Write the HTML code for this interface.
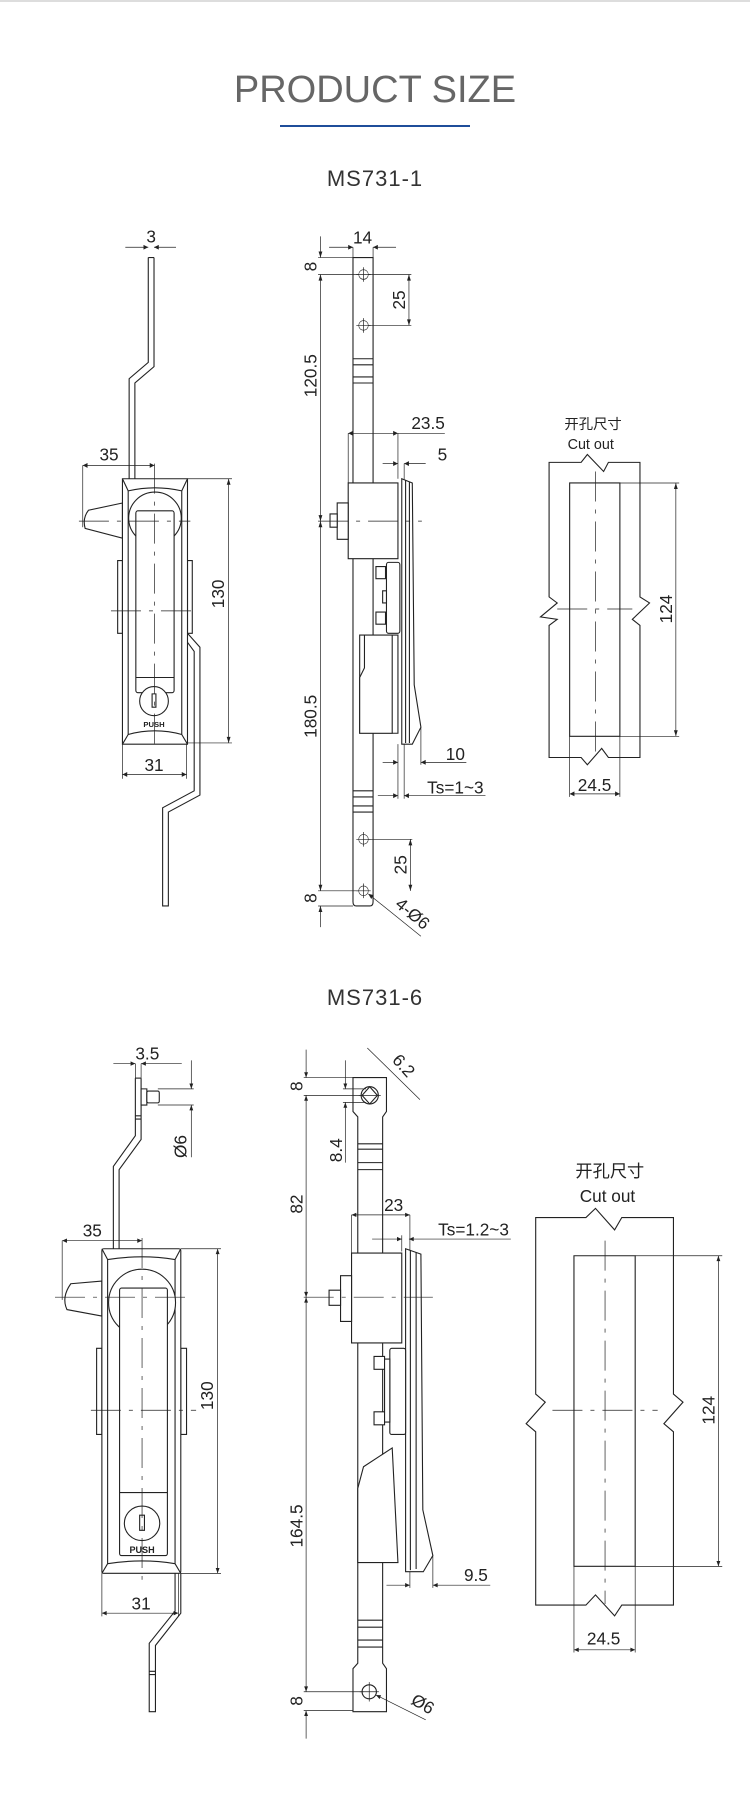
<!DOCTYPE html>
<html><head><meta charset="utf-8"><style>
html,body{margin:0;padding:0;background:#fff;}
svg{display:block}
.l,.f,.d,.da,.c{vector-effect:non-scaling-stroke}
.l{stroke:#222;stroke-width:1.1;fill:none}
.f{stroke:#222;stroke-width:1.1;fill:#fff}
.d{stroke:#222;stroke-width:0.7;fill:none}
.da{stroke:#222;stroke-width:0.7;fill:none;marker-start:url(#a);marker-end:url(#a)}
.c{stroke:#222;stroke-width:0.7;fill:none;stroke-dasharray:30 8 4 8}
.t{font-family:"Liberation Sans Narrow","Liberation Sans",sans-serif;font-size:36px;fill:#222}
.cn{font-family:"Liberation Sans","Noto Sans CJK SC",sans-serif;fill:#222}
</style></head><body>
<svg width="750" height="1794" viewBox="0 0 750 1794" xmlns="http://www.w3.org/2000/svg">
<defs>
<marker id="a" viewBox="0 0 10 10" refX="10" refY="5" markerWidth="14" markerHeight="10" markerUnits="userSpaceOnUse" orient="auto-start-reverse"><path d="M0,1 L10,5 L0,9 z" fill="#222"/></marker>
</defs>
<rect x="0" y="0" width="750" height="2" fill="#ddd"/>
<text x="375" y="102" text-anchor="middle" font-family="Liberation Sans,sans-serif" font-size="38" fill="#666">PRODUCT SIZE</text>
<rect x="280" y="125" width="190" height="2" fill="#1f4e9a"/>
<text x="375" y="186" text-anchor="middle" font-family="Liberation Sans,sans-serif" font-size="22" fill="#333" letter-spacing="1">MS731-1</text>
<text x="375" y="1005" text-anchor="middle" font-family="Liberation Sans,sans-serif" font-size="22" fill="#333" letter-spacing="1">MS731-6</text>

<!-- ============ MS731-1 ============ -->
<g transform="scale(0.4783,0.606)">
<!-- left view -->
<polyline class="l" points="310,425 310,598 270,625 270,790"/>
<polyline class="l" points="322,425 322,605 282,632 282,790"/>
<line class="l" x1="310" y1="425" x2="322" y2="425"/>
<line class="d" x1="262" y1="408" x2="310" y2="408" marker-end="url(#a)"/>
<line class="d" x1="368" y1="408" x2="322" y2="408" marker-end="url(#a)"/>
<text class="t" transform="translate(316,400) scale(1,.789)" text-anchor="middle">3</text>
<path class="f" d="M256,830 L185,842 Q172,855 178,872 L256,888 z"/>
<rect class="f" x="246" y="925" width="10" height="120"/>
<rect class="f" x="392" y="925" width="10" height="120"/>
<polyline class="l" points="392,1045 418,1068 418,1312 352,1340 352,1495 340,1495 340,1333 406,1305 406,1075 392,1060"/>
<rect class="f" x="256" y="790" width="136" height="438"/>
<path class="l" d="M256,790 L268,810 Q324,800 380,810 L392,790 M268,810 L268,1212 L256,1228 M380,810 L380,1212 L392,1228 M268,1212 Q324,1200 380,1212"/>
<ellipse class="f" cx="324" cy="855" rx="55" ry="43"/>
<rect class="f" x="284" y="843" width="80" height="300" rx="4"/>
<line class="l" x1="284" y1="1118" x2="364" y2="1118"/>
<ellipse class="f" cx="322" cy="1157" rx="30" ry="24"/>
<rect class="l" x="318" y="1145" width="8" height="22"/>
<text transform="translate(322,1200) scale(1,.789)" text-anchor="middle" font-family="Liberation Sans,sans-serif" font-weight="bold" font-size="16" fill="#222">PUSH</text>
<line class="c" x1="323" y1="765" x2="323" y2="1240"/>
<line class="c" x1="165" y1="860" x2="398" y2="860"/>
<line class="c" x1="232" y1="1008" x2="412" y2="1008"/>
<line class="d" x1="173" y1="768" x2="173" y2="870"/>
<line class="da" x1="173" y1="768" x2="323" y2="768"/>
<text class="t" transform="translate(228,760) scale(1,.789)" text-anchor="middle">35</text>
<line class="d" x1="392" y1="790" x2="485" y2="790"/>
<line class="d" x1="392" y1="1226" x2="485" y2="1226"/>
<line class="da" x1="478" y1="790" x2="478" y2="1226"/>
<text class="t" transform="translate(468,980) scale(1,.789) rotate(-90)" text-anchor="middle">130</text>
<line class="d" x1="256" y1="1228" x2="256" y2="1285"/>
<line class="d" x1="390" y1="1228" x2="390" y2="1285"/>
<line class="da" x1="256" y1="1278" x2="390" y2="1278"/>
<text class="t" transform="translate(322,1272) scale(1,.789)" text-anchor="middle">31</text>

<!-- middle view -->
<path class="f" d="M738,425 L780,425 L780,1488 Q780,1495 773,1495 L745,1495 Q738,1495 738,1488 z"/>
<path class="l" d="M738,592 H780 M738,602 H780 M738,622 H780 M738,632 H780 M738,1305 H780 M738,1315 H780 M738,1330 H780 M738,1340 H780"/>
<g class="l">
<ellipse cx="760" cy="453" rx="10" ry="8"/><ellipse cx="760" cy="537" rx="10" ry="8"/><ellipse cx="760" cy="1385" rx="10" ry="8"/><ellipse cx="760" cy="1470" rx="10" ry="8"/>
</g>
<path class="d" d="M745,453 H775 M760,441 V465 M745,537 H775 M760,525 V549 M745,1385 H775 M760,1373 V1397 M745,1470 H775 M760,1458 V1482"/>
<rect class="f" x="752" y="1048" width="80" height="162"/>
<path class="f" d="M762,1048 L820,1048 L820,1210 L752,1210 L752,1118 L762,1102 z"/>
<path class="f" d="M840,790 L862,797 L866,1130 L880,1200 L862,1228 L840,1228 z"/>
<path class="l" d="M848,792 V1226 M856,795 V1226"/>
<rect class="f" x="728" y="797" width="104" height="125"/>
<rect class="f" x="808" y="928" width="28" height="117" rx="4"/>
<rect class="f" x="786" y="935" width="20" height="20"/><rect class="f" x="786" y="1010" width="20" height="20"/>
<rect class="f" x="800" y="975" width="8" height="20"/>
<rect class="f" x="705" y="830" width="23" height="60"/>
<rect class="f" x="690" y="848" width="15" height="22"/>
<line class="c" x1="665" y1="860" x2="882" y2="860"/>
<!-- dims -->
<line class="d" x1="738" y1="408" x2="738" y2="425"/><line class="d" x1="780" y1="408" x2="780" y2="425"/>
<line class="d" x1="688" y1="408" x2="738" y2="408" marker-end="url(#a)"/>
<line class="d" x1="828" y1="408" x2="780" y2="408" marker-end="url(#a)"/>
<text class="t" transform="translate(758,402) scale(1,.789)" text-anchor="middle">14</text>
<line class="d" x1="665" y1="425" x2="738" y2="425"/><line class="d" x1="665" y1="453" x2="750" y2="453"/>
<line class="d" x1="670" y1="390" x2="670" y2="425" marker-end="url(#a)"/>
<line class="da" x1="670" y1="453" x2="670" y2="860"/>
<line class="da" x1="670" y1="860" x2="670" y2="1470"/>
<line class="d" x1="670" y1="1530" x2="670" y2="1495" marker-end="url(#a)"/>
<line class="d" x1="665" y1="1470" x2="750" y2="1470"/><line class="d" x1="665" y1="1495" x2="738" y2="1495"/>
<text class="t" transform="translate(662,440) scale(1,.789) rotate(-90)" text-anchor="middle">8</text>
<text class="t" transform="translate(662,620) scale(1,.789) rotate(-90)" text-anchor="middle">120.5</text>
<text class="t" transform="translate(662,1182) scale(1,.789) rotate(-90)" text-anchor="middle">180.5</text>
<text class="t" transform="translate(662,1482) scale(1,.789) rotate(-90)" text-anchor="middle">8</text>
<line class="d" x1="770" y1="453" x2="860" y2="453"/><line class="d" x1="770" y1="537" x2="860" y2="537"/>
<line class="da" x1="855" y1="453" x2="855" y2="537"/>
<text class="t" transform="translate(847,495) scale(1,.789) rotate(-90)" text-anchor="middle">25</text>
<line class="d" x1="770" y1="1385" x2="862" y2="1385"/>
<line class="da" x1="858" y1="1385" x2="858" y2="1470"/>
<text class="t" transform="translate(850,1427) scale(1,.789) rotate(-90)" text-anchor="middle">25</text>
<line class="d" x1="880" y1="1545" x2="770" y2="1475" marker-end="url(#a)"/>
<text class="t" transform="translate(855,1515) scale(1,.789) rotate(40)" text-anchor="middle">4-Ø6</text>
<line class="d" x1="728" y1="715" x2="728" y2="797"/><line class="d" x1="832" y1="715" x2="832" y2="790"/>
<line class="da" x1="728" y1="715" x2="832" y2="715"/>
<line class="d" x1="832" y1="715" x2="930" y2="715"/>
<text class="t" transform="translate(895,708) scale(1,.789)" text-anchor="middle">23.5</text>
<line class="d" x1="845" y1="765" x2="845" y2="792"/>
<line class="d" x1="800" y1="765" x2="832" y2="765" marker-end="url(#a)"/>
<line class="d" x1="890" y1="765" x2="845" y2="765" marker-end="url(#a)"/>
<text class="t" transform="translate(925,760) scale(1,.789)" text-anchor="middle">5</text>
<line class="d" x1="832" y1="1228" x2="832" y2="1318"/><line class="d" x1="880" y1="1200" x2="880" y2="1262"/><line class="d" x1="845" y1="1228" x2="845" y2="1318"/>
<line class="d" x1="800" y1="1258" x2="832" y2="1258" marker-end="url(#a)"/>
<line class="d" x1="975" y1="1258" x2="880" y2="1258" marker-end="url(#a)"/>
<text class="t" transform="translate(952,1254) scale(1,.789)" text-anchor="middle">10</text>
<line class="d" x1="790" y1="1313" x2="832" y2="1313" marker-end="url(#a)"/>
<line class="d" x1="1015" y1="1313" x2="845" y2="1313" marker-end="url(#a)"/>
<text class="t" transform="translate(952,1309) scale(1,.789)" text-anchor="middle">Ts=1~3</text>

<!-- cutout -->
<path class="l" d="M1148,763 H1215 L1228,750 L1262,778 L1272,763 H1338 V985 L1358,995 L1322,1022 L1338,1032 V1250 H1272 L1258,1235 L1228,1262 L1215,1250 H1148 V1032 L1165,1022 L1130,1018 L1165,995 L1148,985 z"/>
<rect class="l" x="1191" y="797" width="105" height="418"/>
<line class="c" x1="1245" y1="778" x2="1245" y2="1240"/>
<line class="c" x1="1165" y1="1005" x2="1322" y2="1005"/>
<line class="d" x1="1296" y1="797" x2="1420" y2="797"/><line class="d" x1="1296" y1="1215" x2="1420" y2="1215"/>
<line class="da" x1="1413" y1="797" x2="1413" y2="1215"/>
<text class="t" transform="translate(1405,1005) scale(1,.789) rotate(-90)" text-anchor="middle">124</text>
<line class="d" x1="1191" y1="1215" x2="1191" y2="1315"/><line class="d" x1="1296" y1="1215" x2="1296" y2="1315"/>
<line class="da" x1="1191" y1="1310" x2="1296" y2="1310"/>
<text class="t" transform="translate(1243,1305) scale(1,.789)" text-anchor="middle">24.5</text>
<text class="cn" transform="translate(1240,708) scale(1,.789)" font-size="30" text-anchor="middle">开孔尺寸</text>
<text class="cn" transform="translate(1235,741) scale(1,.789)" font-size="30" text-anchor="middle">Cut out</text>
</g>

<!-- ============ MS731-6 ============ -->
<g transform="translate(0,950) scale(0.4783,0.5383)">
<!-- left view -->
<line class="d" x1="237" y1="211" x2="283" y2="211" marker-end="url(#a)"/>
<line class="d" x1="380" y1="211" x2="295" y2="211" marker-end="url(#a)"/>
<line class="d" x1="283" y1="211" x2="283" y2="238"/><line class="d" x1="295" y1="211" x2="295" y2="238"/>
<text class="t" transform="translate(308,203) scale(1,.889)" text-anchor="middle">3.5</text>
<polyline class="l" points="283,238 283,345 237,402 237,555"/>
<polyline class="l" points="295,238 295,352 249,408 249,555"/>
<line class="l" x1="283" y1="238" x2="295" y2="238"/>
<path class="l" d="M283,308 H295 M283,314 H295"/>
<rect class="f" x="295" y="258" width="12" height="30"/>
<rect class="f" x="307" y="262" width="26" height="22" rx="3"/>
<line class="d" x1="330" y1="258" x2="405" y2="258"/><line class="d" x1="330" y1="288" x2="405" y2="288"/>
<line class="d" x1="400" y1="205" x2="400" y2="258" marker-end="url(#a)"/>
<line class="d" x1="400" y1="385" x2="400" y2="288" marker-end="url(#a)"/>
<text class="t" transform="translate(390,365) scale(1,.889) rotate(-90)" text-anchor="middle">Ø6</text>
<path class="f" d="M213,615 L148,620 Q128,645 140,668 L213,680 z"/>
<rect class="f" x="202" y="740" width="11" height="160"/>
<rect class="f" x="378" y="740" width="12" height="160"/>
<polyline class="l" points="366,1158 366,1228 312,1288 312,1415 325,1415 325,1292 378,1232 378,1158"/>
<path class="l" d="M312,1340 H325 M312,1346 H325"/>
<rect class="f" x="213" y="555" width="165" height="603" rx="4"/>
<path class="l" d="M213,555 L225,575 Q297,565 366,575 L378,555 M225,575 V1140 L213,1158 M366,575 V1140 L378,1158 M225,1140 Q297,1130 366,1140"/>
<ellipse class="f" cx="297" cy="655" rx="70" ry="62"/>
<rect class="f" x="250" y="628" width="100" height="497" rx="4"/>
<line class="l" x1="250" y1="1008" x2="350" y2="1008"/>
<ellipse class="f" cx="297" cy="1065" rx="37" ry="32"/>
<rect class="l" x="292" y="1050" width="10" height="28"/>
<text transform="translate(297,1120) scale(1,.889)" text-anchor="middle" font-family="Liberation Sans,sans-serif" font-weight="bold" font-size="19" fill="#222">PUSH</text>
<line class="c" x1="297" y1="535" x2="297" y2="1170"/>
<line class="c" x1="115" y1="645" x2="395" y2="645"/>
<line class="c" x1="190" y1="855" x2="410" y2="855"/>
<line class="d" x1="130" y1="540" x2="130" y2="650"/>
<line class="da" x1="130" y1="540" x2="297" y2="540"/>
<text class="t" transform="translate(193,532) scale(1,.889)" text-anchor="middle">35</text>
<line class="d" x1="378" y1="555" x2="462" y2="555"/><line class="d" x1="378" y1="1158" x2="462" y2="1158"/>
<line class="da" x1="455" y1="555" x2="455" y2="1158"/>
<text class="t" transform="translate(445,828) scale(1,.889) rotate(-90)" text-anchor="middle">130</text>
<line class="d" x1="213" y1="1158" x2="213" y2="1238"/><line class="d" x1="373" y1="1158" x2="373" y2="1238"/>
<line class="da" x1="213" y1="1232" x2="373" y2="1232"/>
<text class="t" transform="translate(295,1225) scale(1,.889)" text-anchor="middle">31</text>

<!-- middle view -->
<path class="f" d="M738,237 H808 V300 L800,310 V1325 L808,1335 V1415 H738 V1335 L748,1325 V310 L738,300 z"/>
<path class="l" d="M748,360 H800 M748,370 H800 M748,395 H800 M748,408 H800 M748,1245 H800 M748,1258 H800 M748,1282 H800 M748,1295 H800"/>
<path class="l" d="M773,254 L789,270 L773,286 L757,270 z"/>
<ellipse class="l" cx="773" cy="270" rx="18" ry="16"/>
<ellipse class="l" cx="772" cy="1378" rx="15" ry="13"/>
<path class="d" d="M752,1378 H792 M772,1360 V1396 M750,270 H796"/>
<path class="f" d="M760,960 L820,925 L832,1138 L748,1138 L748,1000 z"/>
<path class="f" d="M848,555 L880,565 L884,1040 L905,1125 L885,1155 L848,1155 z"/>
<path class="l" d="M858,558 V1152 M870,562 V1150"/>
<rect class="f" x="735" y="563" width="105" height="167"/>
<rect class="f" x="815" y="740" width="33" height="160" rx="4"/>
<rect class="f" x="782" y="755" width="22" height="24"/><rect class="f" x="782" y="858" width="22" height="24"/>
<rect class="f" x="804" y="760" width="11" height="117"/>
<rect class="f" x="712" y="605" width="23" height="85"/>
<rect class="f" x="688" y="632" width="24" height="28"/>
<line class="c" x1="635" y1="645" x2="905" y2="645"/>
<!-- dims -->
<line class="d" x1="635" y1="237" x2="738" y2="237"/><line class="d" x1="635" y1="270" x2="760" y2="270"/>
<line class="d" x1="640" y1="185" x2="640" y2="237" marker-end="url(#a)"/>
<line class="da" x1="640" y1="270" x2="640" y2="645"/>
<line class="da" x1="640" y1="645" x2="640" y2="1378"/>
<line class="d" x1="640" y1="1465" x2="640" y2="1413" marker-end="url(#a)"/>
<line class="d" x1="635" y1="1378" x2="760" y2="1378"/><line class="d" x1="635" y1="1413" x2="738" y2="1413"/>
<text class="t" transform="translate(632,253) scale(1,.889) rotate(-90)" text-anchor="middle">8</text>
<text class="t" transform="translate(632,472) scale(1,.889) rotate(-90)" text-anchor="middle">82</text>
<text class="t" transform="translate(632,1070) scale(1,.889) rotate(-90)" text-anchor="middle">164.5</text>
<text class="t" transform="translate(632,1395) scale(1,.889) rotate(-90)" text-anchor="middle">8</text>
<line class="d" x1="717" y1="258" x2="765" y2="258"/><line class="d" x1="717" y1="283" x2="765" y2="283"/>
<line class="d" x1="722" y1="205" x2="722" y2="258" marker-end="url(#a)"/>
<line class="d" x1="722" y1="395" x2="722" y2="283" marker-end="url(#a)"/>
<text class="t" transform="translate(715,372) scale(1,.889) rotate(-90)" text-anchor="middle">8.4</text>
<line class="d" x1="768" y1="182" x2="878" y2="278"/>
<text class="t" transform="translate(835,222) scale(1,.889) rotate(48)" text-anchor="middle">6.2</text>
<line class="d" x1="890" y1="1430" x2="786" y2="1384" marker-end="url(#a)"/>
<text class="t" transform="translate(878,1410) scale(1,.889) rotate(30)" text-anchor="middle">Ø6</text>
<line class="d" x1="735" y1="492" x2="735" y2="563"/><line class="d" x1="857" y1="492" x2="857" y2="558"/>
<line class="da" x1="735" y1="492" x2="857" y2="492"/>
<text class="t" transform="translate(823,485) scale(1,.889)" text-anchor="middle">23</text>
<line class="d" x1="840" y1="530" x2="840" y2="560"/>
<line class="d" x1="778" y1="537" x2="840" y2="537" marker-end="url(#a)"/>
<line class="d" x1="1068" y1="537" x2="855" y2="537" marker-end="url(#a)"/>
<text class="t" transform="translate(990,530) scale(1,.889)" text-anchor="middle">Ts=1.2~3</text>
<line class="d" x1="857" y1="1155" x2="857" y2="1185"/><line class="d" x1="905" y1="1125" x2="905" y2="1185"/>
<line class="d" x1="808" y1="1180" x2="857" y2="1180" marker-end="url(#a)"/>
<line class="d" x1="1025" y1="1180" x2="905" y2="1180" marker-end="url(#a)"/>
<text class="t" transform="translate(995,1172) scale(1,.889)" text-anchor="middle">9.5</text>

<!-- cutout -->
<path class="l" d="M1120,497 H1225 L1245,480 L1285,520 L1300,497 H1408 V825 L1428,840 L1388,880 L1408,895 V1217 H1300 L1285,1237 L1245,1198 L1225,1217 H1120 V895 L1100,880 L1140,840 L1120,825 z"/>
<rect class="l" x="1200" y="568" width="128" height="577"/>
<line class="c" x1="1265" y1="540" x2="1265" y2="1215"/>
<line class="c" x1="1155" y1="855" x2="1375" y2="855"/>
<line class="d" x1="1328" y1="568" x2="1510" y2="568"/><line class="d" x1="1328" y1="1145" x2="1510" y2="1145"/>
<line class="da" x1="1502" y1="568" x2="1502" y2="1145"/>
<text class="t" transform="translate(1494,855) scale(1,.889) rotate(-90)" text-anchor="middle">124</text>
<line class="d" x1="1200" y1="1145" x2="1200" y2="1305"/><line class="d" x1="1328" y1="1145" x2="1328" y2="1305"/>
<line class="da" x1="1200" y1="1300" x2="1328" y2="1300"/>
<text class="t" transform="translate(1262,1290) scale(1,.889)" text-anchor="middle">24.5</text>
<text class="cn" transform="translate(1275,422) scale(1,.889)" font-size="36" text-anchor="middle">开孔尺寸</text>
<text class="cn" transform="translate(1270,468) scale(1,.889)" font-size="36" text-anchor="middle">Cut out</text>
</g>
</svg>
</body></html>
